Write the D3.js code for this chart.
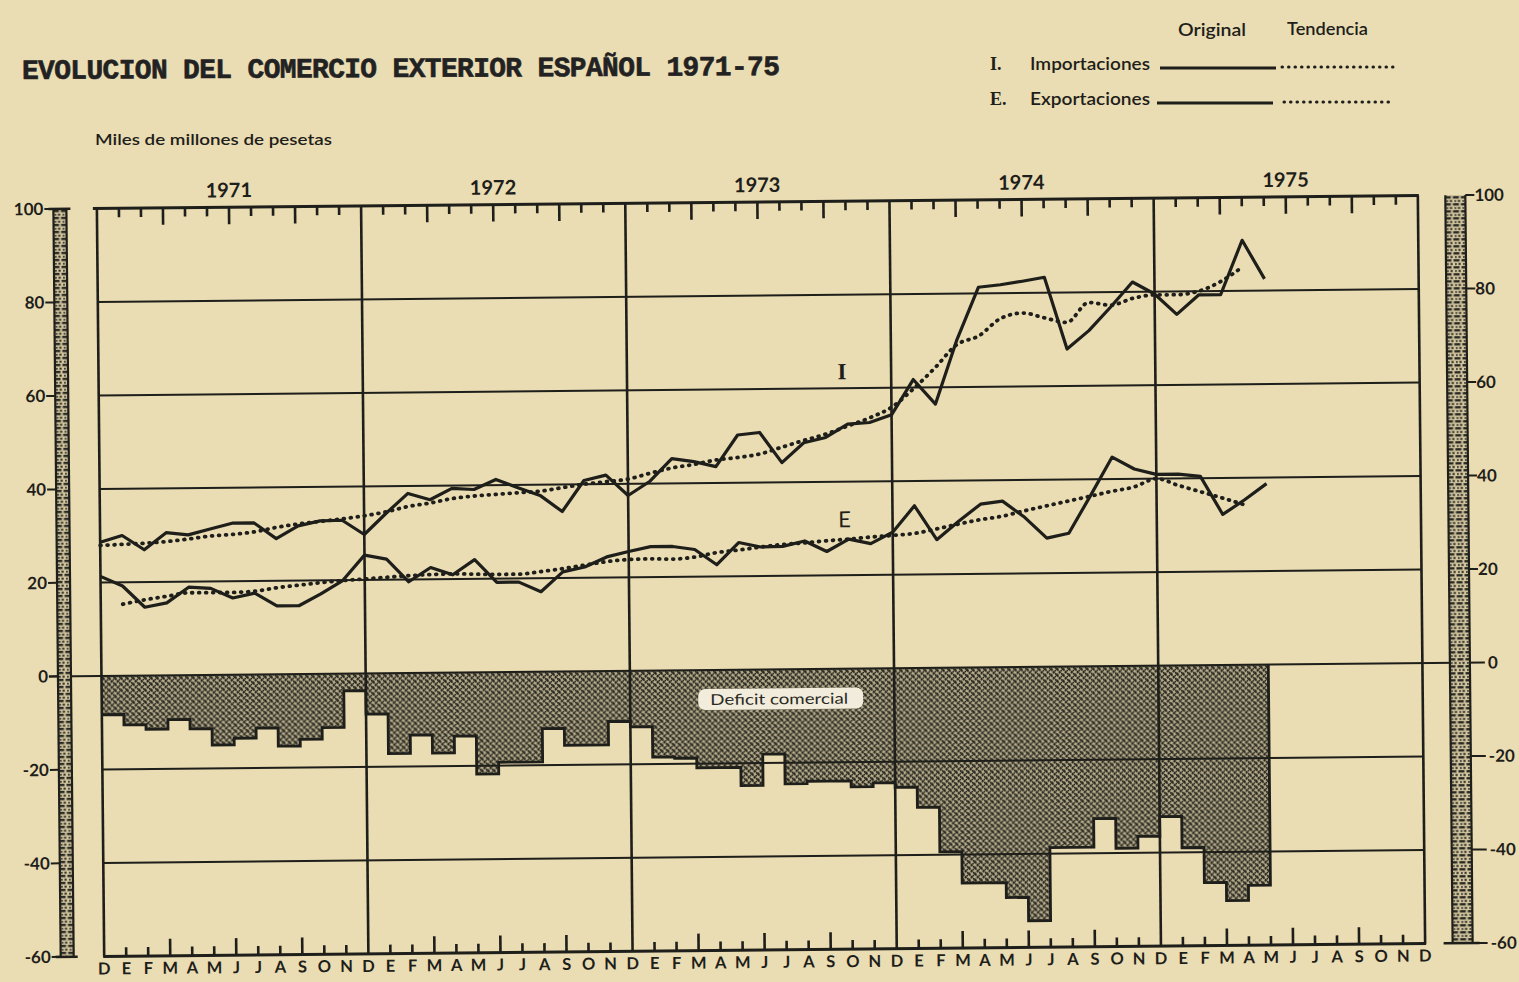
<!DOCTYPE html>
<html><head><meta charset="utf-8">
<script src="https://cdn.jsdelivr.net/npm/d3@7"></script>
<style>html,body{margin:0;padding:0;background:#EADCB3;}svg{display:block}</style>
</head><body>
<svg id="chart" width="1519" height="982"></svg>
<script>
// ---------- DATA (miles de millones de pesetas) ----------
const years = ["1971", "1972", "1973", "1974", "1975"];
const monthLetters = ["E", "F", "M", "A", "M", "J", "J", "A", "S", "O", "N", "D"];
const firstMonthLabel = "D"; // diciembre 1970
const yTicks = [100, 80, 60, 40, 20, 0, -20, -40, -60];
const gridValues = [80, 60, 40, 20, -20, -40];

// monthly series: index 0 = Dic 1970 ... index 53 = May 1975
const importaciones = [28.6, 30.0, 26.9, 30.5, 30.0, 31.2, 32.4, 32.4, 29.0, 31.7, 32.7, 32.8,
  29.7, 34.2, 38.4, 37.0, 39.4, 39.1, 41.2, 39.4, 37.7, 34.2, 40.8, 41.9,
  37.5, 40.5, 45.3, 44.6, 43.5, 50.2, 50.7, 44.2, 48.4, 49.5, 52.3, 52.6,
  54.2, 61.7, 56.4, 70.1, 81.3, 81.8, 82.5, 83.3, 67.9, 71.8, 76.8, 82.1,
  79.5, 75.1, 79.2, 79.2, 90.8, 82.5];
const exportaciones = [21.3, 19.2, 14.6, 15.5, 18.8, 18.5, 16.4, 17.4, 14.6, 14.6, 17.1, 19.9,
  25.3, 24.4, 19.5, 22.5, 20.9, 24.1, 19.2, 19.2, 17.1, 21.3, 22.3, 24.4,
  25.5, 26.5, 26.5, 25.8, 22.5, 27.2, 26.2, 26.3, 27.4, 25.1, 27.7, 26.7,
  29.1, 34.7, 27.4, 31.3, 34.9, 35.5, 32.0, 27.5, 28.5, 36.5, 44.7, 42.1,
  40.9, 40.9, 40.4, 32.2, 35.3, 38.7];
// tendencia importaciones: index 0 .. 52
const tendenciaImport = [27.9, 28.1, 28.3, 28.6, 29.1, 29.7, 30.0, 30.5, 31.4, 32.1, 32.6, 33.1,
  33.7, 34.5, 35.6, 36.3, 37.2, 37.7, 38.0, 38.3, 38.6, 39.3, 40.0, 40.5,
  41.0, 42.2, 43.3, 44.0, 44.9, 45.4, 46.1, 47.5, 48.9, 50.2, 51.9, 53.6,
  55.8, 59.7, 64.2, 69.1, 70.9, 74.6, 75.7, 74.6, 73.6, 77.8, 77.2, 78.6,
  79.3, 79.3, 80.0, 82.0, 85.1];
// tendencia exportaciones: index 1 .. 52
const tendenciaExportStart = 1;
const tendenciaExport = [15.3, 16.2, 16.9, 17.6, 17.6, 17.6, 17.8, 18.5, 19.0, 19.5, 19.9,
  20.2, 20.5, 20.8, 21.0, 21.1, 21.0, 20.9, 20.9, 21.4, 22.0, 22.7, 23.4,
  23.8, 23.9, 23.8, 24.2, 25.1, 25.6, 26.2, 26.7, 27.0, 27.4, 27.7, 28.1,
  28.4, 28.8, 29.7, 30.7, 31.6, 32.3, 33.4, 34.4, 35.4, 36.4, 37.4, 38.3,
  40.0, 38.5, 37.1, 35.7, 34.2];
// deficit comercial mensual: Ene 1971 .. May 1975 (bloque entre mes-1 y mes)
const deficit = [-8.3, -10.5, -11.5, -9.5, -11.5, -15.0, -13.6, -11.5, -15.4, -14.0, -11.5, -3.7,
  -8.7, -17.2, -13.3, -17.2, -13.6, -21.8, -19.3, -19.3, -12.2, -15.8, -15.8, -10.8,
  -12.0, -18.5, -18.8, -20.9, -20.9, -24.8, -18.1, -24.5, -24.0, -24.0, -25.3, -24.5,
  -25.5, -29.8, -39.4, -46.1, -46.1, -49.3, -54.3, -38.7, -38.7, -32.6, -39.0, -36.5,
  -32.3, -39.0, -46.5, -50.4, -47.2];

// ---------- DRAW ----------
const INK = "#1e1e1a";
const PAPER = "#EADCB3";
const SANS = "Lato, 'DejaVu Sans', sans-serif";
const svg = d3.select("#chart");
svg.append("rect").attr("width", 1519).attr("height", 982).attr("fill", PAPER);

const defs = svg.append("defs");
const hatch = defs.append("pattern").attr("id", "hatch").attr("patternUnits", "userSpaceOnUse")
  .attr("width", 6).attr("height", 6);
hatch.append("rect").attr("width", 6).attr("height", 6).attr("fill", "#b8ad8c");
hatch.append("path").attr("d", "M-1,1 l2,-2 M0,6 l6,-6 M5,7 l2,-2")
  .attr("stroke", "#26261f").attr("stroke-width", 1.5).attr("stroke-dasharray", "1.8 0.8");
hatch.append("path").attr("d", "M-1,5 l2,2 M0,0 l6,6 M5,-1 l2,2")
  .attr("stroke", "#26261f").attr("stroke-width", 1.9).attr("stroke-dasharray", "2.2 0.7");

const ladder = defs.append("pattern").attr("id", "ladder").attr("patternUnits", "userSpaceOnUse")
  .attr("width", 8).attr("height", 7);
ladder.append("rect").attr("width", 8).attr("height", 7).attr("fill", "#d3c69f");
ladder.append("rect").attr("x", 0.5).attr("y", 0).attr("width", 6).attr("height", 2.4).attr("fill", "#2a2a24");
ladder.append("rect").attr("x", 2).attr("y", 4).attr("width", 1.8).attr("height", 1.8).attr("fill", "#3a3a32");
ladder.append("rect").attr("x", 5.5).attr("y", 3.8).attr("width", 2.2).attr("height", 2).attr("fill", "#2a2a24");

const g = svg.append("g").attr("transform", "rotate(-0.56,760,575)");

const x = d3.scaleLinear().domain([0, 60]).range([100.5, 1421.5]);
const y = d3.scaleLinear().domain([-60, 100]).range([950, 202]);

// deficit area
g.append("g").selectAll("rect").data(deficit).join("rect")
  .attr("x", (d, i) => x(i)).attr("width", (d, i) => x(i + 1) - x(i) + 0.4)
  .attr("y", y(0)).attr("height", d => y(d) - y(0))
  .attr("fill", "url(#hatch)");
const defPts = deficit.map((d, i) => [i, d]);
defPts.push([deficit.length, deficit[deficit.length - 1]]);
const stepLine = d3.line().curve(d3.curveStepAfter).x(d => x(d[0])).y(d => y(d[1]));
g.append("path")
  .attr("d", stepLine(defPts) + "L" + x(deficit.length) + "," + y(0))
  .attr("fill", "none").attr("stroke", INK).attr("stroke-width", 2.8).attr("stroke-linejoin", "miter");

// grid lines
g.append("g").selectAll("line").data(gridValues).join("line")
  .attr("x1", x(0)).attr("x2", x(60)).attr("y1", d => y(d)).attr("y2", d => y(d))
  .attr("stroke", INK).attr("stroke-width", 2);
// zero line extends to both scale columns
g.append("line").attr("x1", 48).attr("x2", 1484).attr("y1", y(0)).attr("y2", y(0))
  .attr("stroke", INK).attr("stroke-width", 2);

// year dividers and frame
const dividers = d3.range(0, 61, 12);
g.append("g").selectAll("line").data(dividers).join("line")
  .attr("x1", d => x(d)).attr("x2", d => x(d)).attr("y1", y(100)).attr("y2", y(-60))
  .attr("stroke", INK).attr("stroke-width", 2.6);
g.append("line").attr("x1", x(0) - 4).attr("x2", x(60) + 1).attr("y1", y(100)).attr("y2", y(100))
  .attr("stroke", INK).attr("stroke-width", 3);
g.append("line").attr("x1", x(0) - 1).attr("x2", x(60) + 1).attr("y1", y(-60)).attr("y2", y(-60))
  .attr("stroke", INK).attr("stroke-width", 3);

// month ticks (top and bottom)
const monthTicks = d3.range(1, 60).filter(m => m % 12 !== 0);
g.append("g").selectAll("line").data(monthTicks).join("line")
  .attr("x1", d => x(d)).attr("x2", d => x(d))
  .attr("y1", y(100)).attr("y2", d => y(100) + (d % 3 === 0 ? 17 : 9))
  .attr("stroke", INK).attr("stroke-width", 2.6);
g.append("g").selectAll("line").data(monthTicks).join("line")
  .attr("x1", d => x(d)).attr("x2", d => x(d))
  .attr("y1", y(-60)).attr("y2", d => y(-60) - (d % 3 === 0 ? 17 : 9))
  .attr("stroke", INK).attr("stroke-width", 2.6);

// year labels
g.append("g").selectAll("text").data(years).join("text")
  .attr("x", (d, i) => x(i * 12 + 6)).attr("y", 192)
  .attr("text-anchor", "middle").attr("font-family", SANS)
  .attr("font-weight", 700).attr("font-size", 20).attr("fill", INK).text(d => d);

// month labels
const monthLabels = [firstMonthLabel].concat(years.flatMap(() => monthLetters));
g.append("g").selectAll("text").data(monthLabels).join("text")
  .attr("x", (d, i) => x(i)).attr("y", 968)
  .attr("text-anchor", "middle").attr("font-family", SANS)
  .attr("font-weight", 700).attr("font-size", 16.5).attr("fill", INK).text(d => d);

// side scale columns
function column(x0, w) {
  g.append("rect").attr("x", x0).attr("y", y(100)).attr("width", w).attr("height", y(-60) - y(100))
    .attr("fill", "url(#ladder)");
  g.append("line").attr("x1", x0).attr("x2", x0).attr("y1", y(100)).attr("y2", y(-60))
    .attr("stroke", INK).attr("stroke-width", 2.2);
  g.append("line").attr("x1", x0 + w).attr("x2", x0 + w).attr("y1", y(100)).attr("y2", y(-60))
    .attr("stroke", INK).attr("stroke-width", 2.2);
}
column(57, 13);
column(1449, 20);
g.append("line").attr("x1", 52).attr("x2", 74).attr("y1", y(100)).attr("y2", y(100)).attr("stroke", INK).attr("stroke-width", 2.5);
g.append("line").attr("x1", 52).attr("x2", 74).attr("y1", y(-60)).attr("y2", y(-60)).attr("stroke", INK).attr("stroke-width", 2.5);
g.append("line").attr("x1", 1440).attr("x2", 1476).attr("y1", y(-60)).attr("y2", y(-60)).attr("stroke", INK).attr("stroke-width", 2.5);

// left scale
g.append("g").selectAll("line").data(yTicks).join("line")
  .attr("x1", 48).attr("x2", 57).attr("y1", d => y(d)).attr("y2", d => y(d))
  .attr("stroke", INK).attr("stroke-width", 2);
g.append("g").selectAll("text").data(yTicks).join("text")
  .attr("x", 47).attr("y", d => y(d) + 6).attr("text-anchor", "end")
  .attr("font-family", SANS).attr("font-weight", 700)
  .attr("font-size", 17).attr("fill", INK).text(d => d);
// right scale
g.append("g").selectAll("line").data(yTicks.filter(d => d !== 0)).join("line")
  .attr("x1", 1469).attr("x2", d => d < 0 ? 1484 : 1478).attr("y1", d => y(d)).attr("y2", d => y(d))
  .attr("stroke", INK).attr("stroke-width", 2);
g.append("g").selectAll("text").data(yTicks).join("text")
  .attr("x", d => d <= 0 ? 1487 : 1478).attr("y", d => y(d) + 6).attr("text-anchor", "start")
  .attr("font-family", SANS).attr("font-weight", 700)
  .attr("font-size", 17).attr("fill", INK).text(d => d);

// series lines
const solid = d3.line().x((d, i) => x(i)).y(d => y(d));
g.append("path").attr("d", solid(importaciones)).attr("fill", "none")
  .attr("stroke", INK).attr("stroke-width", 3.2).attr("stroke-linejoin", "round");
g.append("path").attr("d", solid(exportaciones)).attr("fill", "none")
  .attr("stroke", INK).attr("stroke-width", 3.2).attr("stroke-linejoin", "round");
const trendI = d3.line().curve(d3.curveMonotoneX).x((d, i) => x(i)).y(d => y(d));
const trendE = d3.line().curve(d3.curveMonotoneX).x((d, i) => x(i + tendenciaExportStart)).y(d => y(d));
g.append("path").attr("d", trendI(tendenciaImport)).attr("fill", "none")
  .attr("stroke", INK).attr("stroke-width", 3.8).attr("stroke-linecap", "round").attr("stroke-dasharray", "0.8 6.2");
g.append("path").attr("d", trendE(tendenciaExport)).attr("fill", "none")
  .attr("stroke", INK).attr("stroke-width", 3.8).attr("stroke-linecap", "round").attr("stroke-dasharray", "0.8 6.2");

// series letters
g.append("text").attr("x", 844).attr("y", 380).attr("text-anchor", "middle")
  .attr("font-family", "'Liberation Serif', serif").attr("font-weight", 700).attr("font-size", 23).attr("fill", INK).text("I");
g.append("text").attr("x", 845).attr("y", 528).attr("text-anchor", "middle")
  .attr("font-family", SANS).attr("font-size", 22).attr("fill", INK).text("E");

// deficit label
g.append("rect").attr("x", 697).attr("y", y(0) + 19).attr("width", 165).attr("height", 21).attr("rx", 7)
  .attr("fill", "#f2ecdc");
g.append("text").attr("x", 709).attr("y", y(0) + 35)
  .attr("font-family", SANS).attr("font-size", 15)
  .attr("textLength", 138).attr("lengthAdjust", "spacingAndGlyphs").attr("fill", "#2a2a24").text("Deficit comercial");

// ---------- title, subtitle and legend ----------
svg.append("text").attr("x", 22).attr("y", 79).attr("transform", "rotate(-0.3,22,79)")
  .attr("font-family", "'Liberation Mono', 'DejaVu Sans Mono', monospace").attr("font-weight", 700)
  .attr("font-size", 28).attr("textLength", 758).attr("stroke", "#222").attr("stroke-width", 0.6)
  .attr("fill", "#222").text("EVOLUCION DEL COMERCIO EXTERIOR ESPAÑOL 1971-75");
svg.append("text").attr("x", 95).attr("y", 145)
  .attr("font-family", SANS).attr("font-size", 15.5).attr("font-weight", 600).attr("textLength", 237)
  .attr("lengthAdjust", "spacingAndGlyphs").attr("fill", INK).text("Miles de millones de pesetas");

const lg = svg.append("g").attr("font-family", SANS).attr("fill", INK).attr("font-weight", 600);
lg.append("text").attr("x", 1178).attr("y", 36).attr("font-size", 16.5)
  .attr("textLength", 68).attr("lengthAdjust", "spacingAndGlyphs").text("Original");
lg.append("text").attr("x", 1287).attr("y", 35).attr("font-size", 16.5)
  .attr("textLength", 81).attr("lengthAdjust", "spacingAndGlyphs").text("Tendencia");
const legendRows = [
  {key: "I.", name: "Importaciones", y: 70, s: [1160, 1276], t: [1282, 1393], ly: 68},
  {key: "E.", name: "Exportaciones", y: 105, s: [1157, 1273], t: [1284, 1391], ly: 103}
];
legendRows.forEach(r => {
  lg.append("text").attr("x", 990).attr("y", r.y).attr("font-size", 18).attr("font-weight", 700)
    .attr("font-family", "'Liberation Serif', serif").text(r.key);
  lg.append("text").attr("x", 1030).attr("y", r.y).attr("font-size", 16.5).attr("textLength", 120)
    .attr("lengthAdjust", "spacingAndGlyphs").text(r.name);
  lg.append("line").attr("x1", r.s[0]).attr("x2", r.s[1]).attr("y1", r.ly).attr("y2", r.ly)
    .attr("stroke", INK).attr("stroke-width", 3);
  lg.append("line").attr("x1", r.t[0]).attr("x2", r.t[1]).attr("y1", r.ly - 1).attr("y2", r.ly - 1)
    .attr("stroke", INK).attr("stroke-width", 3).attr("stroke-linecap", "round").attr("stroke-dasharray", "0.5 6");
});
</script>
</body></html>
